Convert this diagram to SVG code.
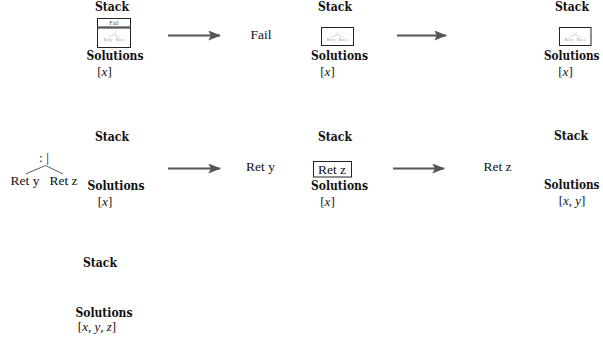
<svg xmlns="http://www.w3.org/2000/svg" width="603" height="341" viewBox="0 0 603 341">
<style>
text{font-family:"Liberation Serif","Times New Roman",serif;fill:#111}
.b,.bs{font-family:"DejaVu Serif","Liberation Serif",serif;font-weight:bold;font-size:12.5px}
.b{text-anchor:middle}
.r{font-size:13.5px;text-anchor:middle}
.m{font-size:13px;text-anchor:middle}
.i{font-style:italic}
.t{font-size:4px;text-anchor:middle;fill:#888}
.tf{font-size:6px;text-anchor:middle;fill:#555}
.box{fill:#fff;stroke:#222;stroke-width:1}
.tl{stroke:#999;stroke-width:0.4;fill:none}
.br{stroke:#333;stroke-width:0.8;fill:none}
.arr{stroke:#555;stroke-width:2.2;fill:none}
</style>
<defs>
<marker id="ah" viewBox="0 0 10 10" refX="9" refY="5" markerWidth="13" markerHeight="10" markerUnits="userSpaceOnUse" orient="auto" preserveAspectRatio="none">
<path d="M0,0 L10,5 L0,10 L2,5 Z" fill="#555"/>
</marker>
<g id="tinytree">
<text class="t" x="0" y="4">: |</text>
<path class="tl" d="M0,4.5 L-6,7.5 M0,4.5 L6,7.5"/>
<text class="t" x="-6" y="11">Ret y</text>
<text class="t" x="6" y="11">Ret z</text>
</g>
</defs>

<g id="connectors">
<path class="arr" d="M168,35.5 L220,35.5" marker-end="url(#ah)"/>
<path class="arr" d="M397,35.5 L446,35.5" marker-end="url(#ah)"/>
<path class="arr" d="M168,168.5 L220,168.5" marker-end="url(#ah)"/>
<path class="arr" d="M393,168.5 L444,168.5" marker-end="url(#ah)"/>
</g>

<g id="state1">
<text class="b" x="112" y="11" textLength="34" lengthAdjust="spacingAndGlyphs">Stack</text>
<rect class="box" x="97.5" y="18.5" width="33" height="8.5"/>
<text class="tf" x="114" y="25">Fail</text>
<rect class="box" x="97.5" y="28" width="33" height="19.5"/>
<use href="#tinytree" x="114" y="30"/>
<text class="b" x="115" y="60" textLength="57" lengthAdjust="spacingAndGlyphs">Solutions</text>
<text class="m" x="104.5" y="76">[<tspan class="i">x</tspan>]</text>
</g>

<g id="fail1">
<text class="r" x="261" y="38.5">Fail</text>
</g>

<g id="state2">
<text class="b" x="335" y="11" textLength="34" lengthAdjust="spacingAndGlyphs">Stack</text>
<rect class="box" x="321.5" y="27.5" width="32" height="18"/>
<use href="#tinytree" x="337" y="30"/>
<text class="b" x="339.5" y="60" textLength="57" lengthAdjust="spacingAndGlyphs">Solutions</text>
<text class="m" x="327.5" y="76">[<tspan class="i">x</tspan>]</text>
</g>

<g id="state3">
<text class="b" x="572" y="11" textLength="34" lengthAdjust="spacingAndGlyphs">Stack</text>
<rect class="box" x="559.5" y="27.5" width="31.5" height="18"/>
<use href="#tinytree" x="575" y="30"/>
<text class="bs" x="544" y="60" textLength="55.5" lengthAdjust="spacingAndGlyphs">Solutions</text>
<text class="m" x="565.5" y="76">[<tspan class="i">x</tspan>]</text>
</g>

<g id="tree">
<text class="r" x="44" y="162">: |</text>
<path class="br" d="M45.5,165.5 L25.5,174 M45.5,165.5 L63,174"/>
<text class="r" x="25" y="185">Ret y</text>
<text class="r" x="63.5" y="185">Ret z</text>
</g>

<g id="state4">
<text class="b" x="112" y="141" textLength="34" lengthAdjust="spacingAndGlyphs">Stack</text>
<text class="b" x="116" y="190" textLength="57" lengthAdjust="spacingAndGlyphs">Solutions</text>
<text class="m" x="105" y="206">[<tspan class="i">x</tspan>]</text>
</g>

<g id="rety">
<text class="r" x="260.5" y="171">Ret y</text>
</g>

<g id="state5">
<text class="b" x="335" y="141" textLength="34" lengthAdjust="spacingAndGlyphs">Stack</text>
<rect class="box" x="313.5" y="161.5" width="38" height="15.5"/>
<text class="r" x="332" y="174">Ret z</text>
<text class="b" x="339.5" y="190" textLength="57" lengthAdjust="spacingAndGlyphs">Solutions</text>
<text class="m" x="327.5" y="206">[<tspan class="i">x</tspan>]</text>
</g>

<g id="retz">
<text class="r" x="497.5" y="171">Ret z</text>
</g>

<g id="state6">
<text class="b" x="571" y="140" textLength="34" lengthAdjust="spacingAndGlyphs">Stack</text>
<text class="bs" x="544" y="189" textLength="55.5" lengthAdjust="spacingAndGlyphs">Solutions</text>
<text class="m" x="572" y="205">[<tspan class="i">x</tspan>, <tspan class="i">y</tspan>]</text>
</g>

<g id="state7">
<text class="b" x="100" y="267" textLength="34" lengthAdjust="spacingAndGlyphs">Stack</text>
<text class="b" x="104" y="317" textLength="57" lengthAdjust="spacingAndGlyphs">Solutions</text>
<text class="m" x="97" y="331">[<tspan class="i">x</tspan>, <tspan class="i">y</tspan>, <tspan class="i">z</tspan>]</text>
</g>
</svg>
